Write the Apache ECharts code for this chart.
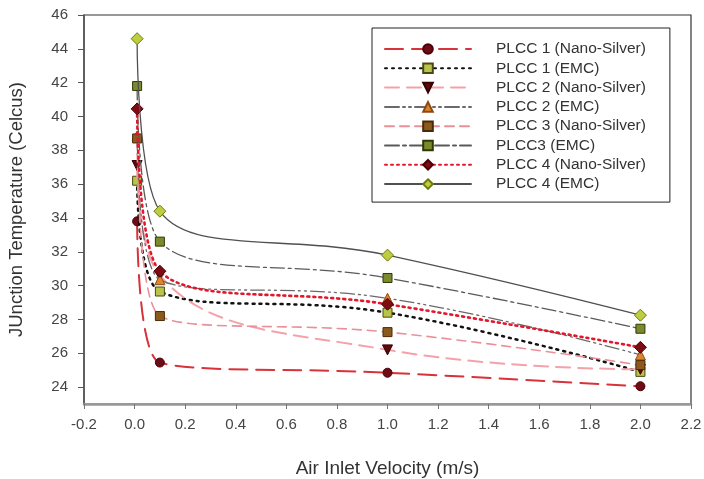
<!DOCTYPE html>
<html>
<head>
<meta charset="utf-8">
<script src="https://cdn.jsdelivr.net/npm/echarts@6/dist/echarts.min.js"></script>
<style>
html,body{margin:0;padding:0;background:#fff;}
#chart{width:704px;height:479px;}
</style>
</head>
<body>
<div id="chart"></div>
<script>
// Air inlet velocity (m/s)
var velocities = [0.01, 0.1, 1.0, 2.0];
// Junction temperature (Celcius)
var plcc1Nano = [33.8, 25.45, 24.85, 24.05];
var plcc1Emc  = [36.2, 29.65, 28.4, 24.9];
var plcc2Nano = [37.1, 30.6, 26.2, 25.05];
var plcc2Emc  = [38.85, 30.35, 29.25, 25.9];
var plcc3Nano = [38.7, 28.2, 27.25, 25.3];
var plcc3Emc  = [41.8, 32.6, 30.45, 27.45];
var plcc4Nano = [40.45, 30.85, 28.9, 26.35];
var plcc4Emc  = [44.6, 34.4, 31.8, 28.25];
var seriesNames = ['PLCC 1 (Nano-Silver)', 'PLCC 1 (EMC)', 'PLCC 2 (Nano-Silver)', 'PLCC 2 (EMC)',
                   'PLCC 3 (Nano-Silver)', 'PLCC3 (EMC)', 'PLCC 4 (Nano-Silver)', 'PLCC 4 (EMC)'];
var yTickValues = [24, 26, 28, 30, 32, 34, 36, 38, 40, 42, 44, 46];
var xTickStep = 0.2;

function pairs(vals){ return velocities.map(function(x,i){ return [x, vals[i]]; }); }

var FONT = '"Liberation Sans", Arial, sans-serif';

var styles = [
  {data: plcc1Nano, color:'#d8323a', width:2,   dash:[18,9],          sym:'circle',   symColor:'#6e0b14', symBorder:'#4a0008', size:9},
  {data: plcc1Emc,  color:'#111111', width:2.5, dash:[2,5],           sym:'rect',     symColor:'#b9c44a', symBorder:'#4a4a10', size:9},
  {data: plcc2Nano, color:'#f3a2aa', width:2,   dash:[14,8],          sym:'triangle', symColor:'#5c0a0a', symBorder:'#3a0000', size:10, rotate:180},
  {data: plcc2Emc,  color:'#6a6a6a', width:1.3, dash:[14,4,2,4,2,4],  sym:'triangle', symColor:'#e0852e', symBorder:'#8a4a10', size:10},
  {data: plcc3Nano, color:'#e99098', width:1.6, dash:[9,6],           sym:'rect',     symColor:'#8c5a1c', symBorder:'#4a2a05', size:9},
  {data: plcc3Emc,  color:'#5a5a5a', width:1.3, dash:[14,4,3,4],      sym:'rect',     symColor:'#7b8a2c', symBorder:'#2e3a05', size:9},
  {data: plcc4Nano, color:'#e2172c', width:2.6, dash:[2,4],           sym:'diamond',  symColor:'#7c0b12', symBorder:'#4a0008', size:12},
  {data: plcc4Emc,  color:'#505050', width:1.3, dash:'solid',         sym:'diamond',  symColor:'#bccd3e', symBorder:'#6e7a10', size:12}
];

var series = styles.map(function(s, i){
  return {
    name: seriesNames[i],
    type: 'line',
    smooth: 0.45,
    data: pairs(s.data),
    symbol: s.sym,
    symbolSize: s.size,
    symbolRotate: s.rotate || 0,
    showAllSymbol: true,
    lineStyle: {color: s.color, width: s.width, type: s.dash, cap: 'round'},
    itemStyle: {color: s.symColor, borderColor: s.symBorder, borderWidth: 1},
    emphasis: {disabled: true},
    z: 2 + i
  };
});

var chart = echarts.init(document.getElementById('chart'), null, {renderer:'canvas'});
chart.setOption({
  animation: false,
  backgroundColor: '#ffffff',
  textStyle: {fontFamily: FONT},
  grid: {left: 84, right: 13, top: 15, bottom: 75, show: true, containLabel: false, outerBoundsMode: 'none',
         borderColor: '#333', borderWidth: 1.2, backgroundColor: 'transparent'},
  legend: {
    show: true,
    orient: 'vertical',
    left: 372, top: 28,
    data: seriesNames,
    itemWidth: 86, itemHeight: 12, itemGap: 3.3,
    padding: [13, 24, 10, 12],
    borderColor: '#222', borderWidth: 1,
    backgroundColor: '#fff',
    textStyle: {fontFamily: FONT, fontSize: 15.5, color: '#333', padding: [0,0,0,20]},
    selectedMode: false
  },
  xAxis: {
    type: 'value', min: -0.2, max: 2.2, interval: xTickStep,
    name: 'Air Inlet Velocity (m/s)', nameLocation: 'middle', nameGap: 55,
    nameTextStyle: {fontFamily: FONT, fontSize: 19, color: '#333'},
    axisLine: {show: true, onZero: false, lineStyle: {color: '#999', width: 2.5}},
    axisTick: {show: true, inside: false, length: 5, lineStyle: {color: '#777', width: 1}},
    axisLabel: {show: true, margin: 13, fontSize: 15, color: '#444', fontFamily: FONT, showMinLabel: true, showMaxLabel: true,
      formatter: function(v){ return v.toFixed(1); }},
    splitLine: {show: false}
  },
  yAxis: {
    type: 'value', min: 23, max: 46,
    name: 'JUnction Temperature (Celcus)', nameLocation: 'middle', nameGap: 58, nameRotate: 90,
    nameTextStyle: {fontFamily: FONT, fontSize: 18.5, color: '#333'},
    axisLine: {show: true, onZero: false, lineStyle: {color: '#555', width: 1.5}},
    axisTick: {show: true, inside: false, length: 6, customValues: yTickValues, lineStyle: {color: '#555', width: 1}},
    axisLabel: {show: true, margin: 16, fontSize: 15, color: '#444', fontFamily: FONT, customValues: yTickValues},
    splitLine: {show: false}
  },
  series: series
});
</script>
</body>
</html>
